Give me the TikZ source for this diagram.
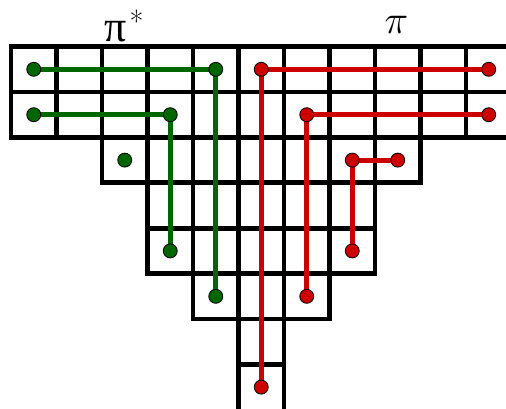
\RequirePackage{fix-cm}
\documentclass[tikz,border=0pt]{standalone}
\usepackage{fontspec}
\newfontfamily\grk{Liberation Serif}
\definecolor{pgreen}{RGB}{0,102,0}
\definecolor{pred}{RGB}{204,0,0}
\pgfdeclarelayer{bg}
\pgfsetlayers{bg,main}
\begin{document}
\begin{tikzpicture}[x=1pt,y=-1pt,
  gridcell/.style={draw=black,line width=4.8pt},
  gline/.style={draw=pgreen,line width=5pt},
  rline/.style={draw=pred,line width=5pt},
  dotbase/.style={circle,draw=black,line width=0.8pt,inner sep=0pt,minimum size=14pt},
  gdot/.style={dotbase,fill=pgreen},
  rdot/.style={dotbase,fill=pred},
  lbl/.style={anchor=base,inner sep=0pt,font=\fontsize{40}{44}\selectfont}]
\clip (0,0) rectangle (506,408);
% cell centre coordinates
\foreach \r in {0,...,7}
  \foreach \c in {0,...,10}
    \coordinate (c\c-\r) at ({11+45.5*\c+22.75},{46.6+45.4*\r+22.7});
% dots
\node[gdot] (g1) at (c0-0) {};
\node[gdot] (g2) at (c4-0) {};
\node[gdot] (g3) at (c4-5) {};
\node[gdot] (g4) at (c0-1) {};
\node[gdot] (g5) at (c3-1) {};
\node[gdot] (g6) at (c3-4) {};
\node[gdot] (g7) at (c2-2) {};
\node[rdot] (r1) at (c10-0) {};
\node[rdot] (r2) at (c5-0) {};
\node[rdot] (r3) at (c5-7) {};
\node[rdot] (r4) at (c10-1) {};
\node[rdot] (r5) at (c6-1) {};
\node[rdot] (r6) at (c6-5) {};
\node[rdot] (r7) at (c8-2) {};
\node[rdot] (r8) at (c7-2) {};
\node[rdot] (r9) at (c7-4) {};
% labels
\node[lbl,font=\fontsize{44}{48}\selectfont] (pistar) at (115.5,41) {\grk π};
\node[anchor=base,inner sep=0pt,font=\fontsize{30}{30}\selectfont] (star) at (136.5,32.5) {*};
\node[lbl] (pi) at (396.5,33) {$\pi$};
\begin{pgfonlayer}{bg}
\fill[white] (0,0) rectangle (506,408);
\foreach \r/\a/\b in {0/0/10,1/0/10,2/2/8,3/3/7,4/3/7,5/4/6,6/5/5}
  \foreach \c in {\a,...,\b}
    \draw[gridcell] ({11+45.5*\c},{46.6+45.4*\r}) rectangle ++(45.5,45.4);
\draw[gridcell] ({11+45.5*5},{46.6+45.4*7}) rectangle ++(45.5,50);
\draw[gline] (g1.center) -- (g2.center) -- (g3.center);
\draw[gline] (g4.center) -- (g5.center) -- (g6.center);
\draw[rline] (r1.center) -- (r2.center) -- (r3.center);
\draw[rline] (r4.center) -- (r5.center) -- (r6.center);
\draw[rline] (r7.center) -- (r8.center) -- (r9.center);
\end{pgfonlayer}
\end{tikzpicture}
\end{document}
